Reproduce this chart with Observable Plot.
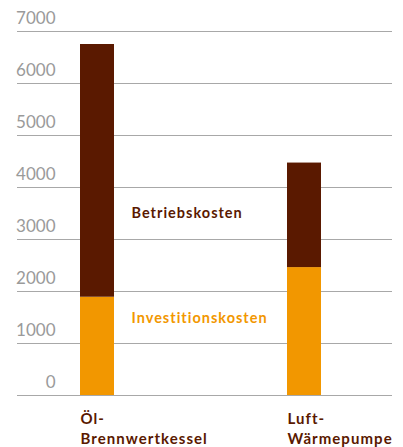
<!DOCTYPE html>
<html>
<head>
<meta charset="utf-8">
<script src="https://cdn.jsdelivr.net/npm/d3@7"></script>
<script src="https://cdn.jsdelivr.net/npm/@observablehq/plot@0.6"></script>
<style>
  html, body { margin: 0; padding: 0; background: #fff; }
  svg { display: block; }
</style>
</head>
<body>
<div id="chart"></div>
<script>
const categories = ["Öl-\nBrennwertkessel", "Luft-\nWärmepumpe"];
const investitionskosten = [1890, 2460];
const betriebskosten = [4860, 2010];
const seriesNames = ["Investitionskosten", "Betriebskosten"];
const seriesColors = ["#f29700", "#5a1900"];
const yTicks = [0, 1000, 2000, 3000, 4000, 5000, 6000, 7000];
const labelPositions = [1480, 3500]; // y values where series labels sit

const data = [];
categories.forEach((c, i) => {
  data.push({cat: c, series: seriesNames[0], value: investitionskosten[i]});
  data.push({cat: c, series: seriesNames[1], value: betriebskosten[i]});
});
const seriesLabels = seriesNames.map((s, i) => ({series: s, y: labelPositions[i]}));

const chart = Plot.plot({
  width: 403,
  height: 447,
  marginLeft: 17,
  marginRight: 11,
  marginTop: 31,
  marginBottom: 52,
  style: {fontFamily: "Lato, sans-serif", background: "#fff"},
  x: {domain: categories, range: [80, 321], paddingInner: 0.836, paddingOuter: 0, axis: null},
  y: {domain: [0, 7000], axis: null},
  color: {domain: seriesNames, range: seriesColors},
  marks: [
    Plot.ruleY(yTicks, {stroke: "#a8a8a8", strokeWidth: 1.2}),
    Plot.text(yTicks, {y: d => d, text: d => String(d), frameAnchor: "left", textAnchor: "end", dx: 38, dy: -13, fill: "#9a9a9a", fontSize: 17}),
    Plot.barY(data, Plot.stackY({x: "cat", y: "value", fill: "series", order: seriesNames})),
    Plot.text(categories, {x: d => d, text: d => d, frameAnchor: "bottom", textAnchor: "start", lineAnchor: "top", dx: -17, dy: 15, lineHeight: 1.3, fill: "#5a1900", fontWeight: "bold", fontSize: 15}),
    Plot.text(seriesLabels, {y: "y", text: "series", fill: "series", frameAnchor: "left", textAnchor: "start", dx: 114, fontWeight: "bold", fontSize: 14.5})
  ]
});
const textGroups = chart.querySelectorAll('g[aria-label="text"]');
if (textGroups[1]) textGroups[1].style.letterSpacing = "1.05px";
if (textGroups[2]) textGroups[2].style.letterSpacing = "1.0px";
document.getElementById("chart").append(chart);
</script>
</body>
</html>
